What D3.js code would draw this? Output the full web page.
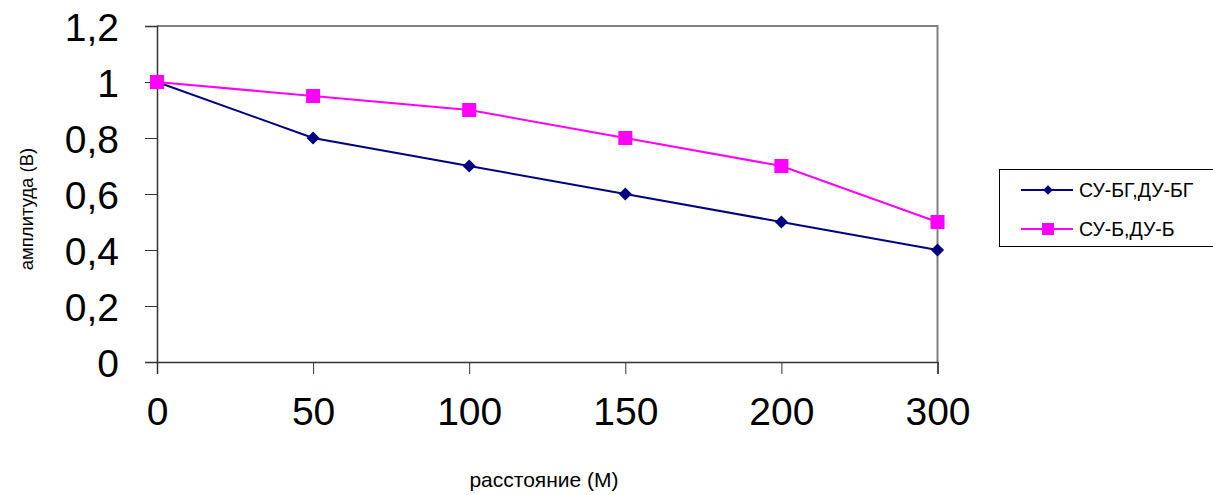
<!DOCTYPE html>
<html><head><meta charset="utf-8">
<script src="https://cdn.jsdelivr.net/npm/d3@7"></script>
<style>
html,body{margin:0;padding:0;background:#fff;}
text{font-family:"Liberation Sans",Arial,sans-serif;}
</style></head>
<body><svg id="c" width="1213" height="495"></svg>
<script>
const categories = ["0","50","100","150","200","300"];
const seriesNames = ["СУ-БГ,ДУ-БГ","СУ-Б,ДУ-Б"];
const series1 = [1, 0.8, 0.7, 0.6, 0.5, 0.4];
const series2 = [1, 0.95, 0.9, 0.8, 0.7, 0.5];
const yTicks = [0, 0.2, 0.4, 0.6, 0.8, 1, 1.2];
const yTickLabels = ["0","0,2","0,4","0,6","0,8","1","1,2"];
const xTitle = "расстояние (М)";
const yTitle = "амплитуда (В)";

const svg = d3.select("#c");
const L = 157, R = 937.5, T = 26, B = 362;
const x = d3.scalePoint().domain(categories).range([L, R]);
const y = d3.scaleLinear().domain([0, 1.2]).range([B, T]);

// plot border (top/right gray)
svg.append("path").attr("d", `M${L},${T}H${R}V${B}`).attr("fill","none")
  .attr("stroke","#808080").attr("stroke-width",2);

// y axis
const yAxis = d3.axisLeft(y).tickValues(yTicks)
  .tickFormat((d,i)=>yTickLabels[i]).tickSize(12).tickPadding(26);
const gy = svg.append("g").attr("transform",`translate(${L},0)`).call(yAxis);
gy.select(".domain").attr("stroke","#333").attr("stroke-width",1.5);
gy.selectAll(".tick line").attr("stroke","#333");
gy.selectAll(".tick text").attr("font-size",39).attr("fill","#000")
  .attr("font-family","Liberation Sans, Arial, sans-serif").attr("dy","0.36em");

// x axis
const xAxis = d3.axisBottom(x).tickSize(12).tickPadding(23);
const gx = svg.append("g").attr("transform",`translate(0,${B})`).call(xAxis);
gx.select(".domain").attr("stroke","#333").attr("stroke-width",1.5);
gx.selectAll(".tick line").attr("stroke","#333");
gx.selectAll(".tick text").attr("font-size",39).attr("fill","#000")
  .attr("font-family","Liberation Sans, Arial, sans-serif");

// titles
svg.append("text").attr("x",544).attr("y",487).attr("text-anchor","middle")
  .attr("font-size",21).text(xTitle);
svg.append("text").attr("transform","translate(33,209) rotate(-90)")
  .attr("text-anchor","middle").attr("font-size",18.5).text(yTitle);

const line = d3.line().x((d,i)=>x(categories[i])).y(d=>y(d));
const colors = ["#000080","#FF00FF"];
const data = [series1, series2];
const diamond = d3.symbol().type(d3.symbolDiamond2).size(110);

data.forEach((s, k) => {
  svg.append("path").datum(s).attr("d", line).attr("fill","none")
    .attr("stroke", colors[k]).attr("stroke-width", 2);
});
// series1 diamonds
svg.selectAll(".m1").data(series1).enter().append("path")
  .attr("transform",(d,i)=>`translate(${x(categories[i])},${y(d)})`)
  .attr("d", diamond).attr("fill", colors[0]);
// series2 squares
svg.selectAll(".m2").data(series2).enter().append("rect")
  .attr("x",(d,i)=>x(categories[i])-7).attr("y",d=>y(d)-7)
  .attr("width",14).attr("height",14).attr("fill", colors[1]);

// legend
const lg = svg.append("g");
lg.append("rect").attr("x",999.5).attr("y",169.5).attr("width",214).attr("height",77)
  .attr("fill","#fff").attr("stroke","#000").attr("stroke-width",1);
const ly = [190, 229];
seriesNames.forEach((n,k)=>{
  lg.append("line").attr("x1",1021).attr("x2",1073).attr("y1",ly[k]).attr("y2",ly[k])
    .attr("stroke",colors[k]).attr("stroke-width",2);
  if (k===0) lg.append("path").attr("transform",`translate(1048,${ly[k]})`)
    .attr("d", d3.symbol().type(d3.symbolDiamond2).size(60)).attr("fill",colors[k]);
  else lg.append("rect").attr("x",1042).attr("y",ly[k]-6).attr("width",12).attr("height",12)
    .attr("fill",colors[k]);
  lg.append("text").attr("x",1079).attr("y",ly[k]).attr("dy","0.36em")
    .attr("font-size",19.5).text(n);
});
</script></body></html>
